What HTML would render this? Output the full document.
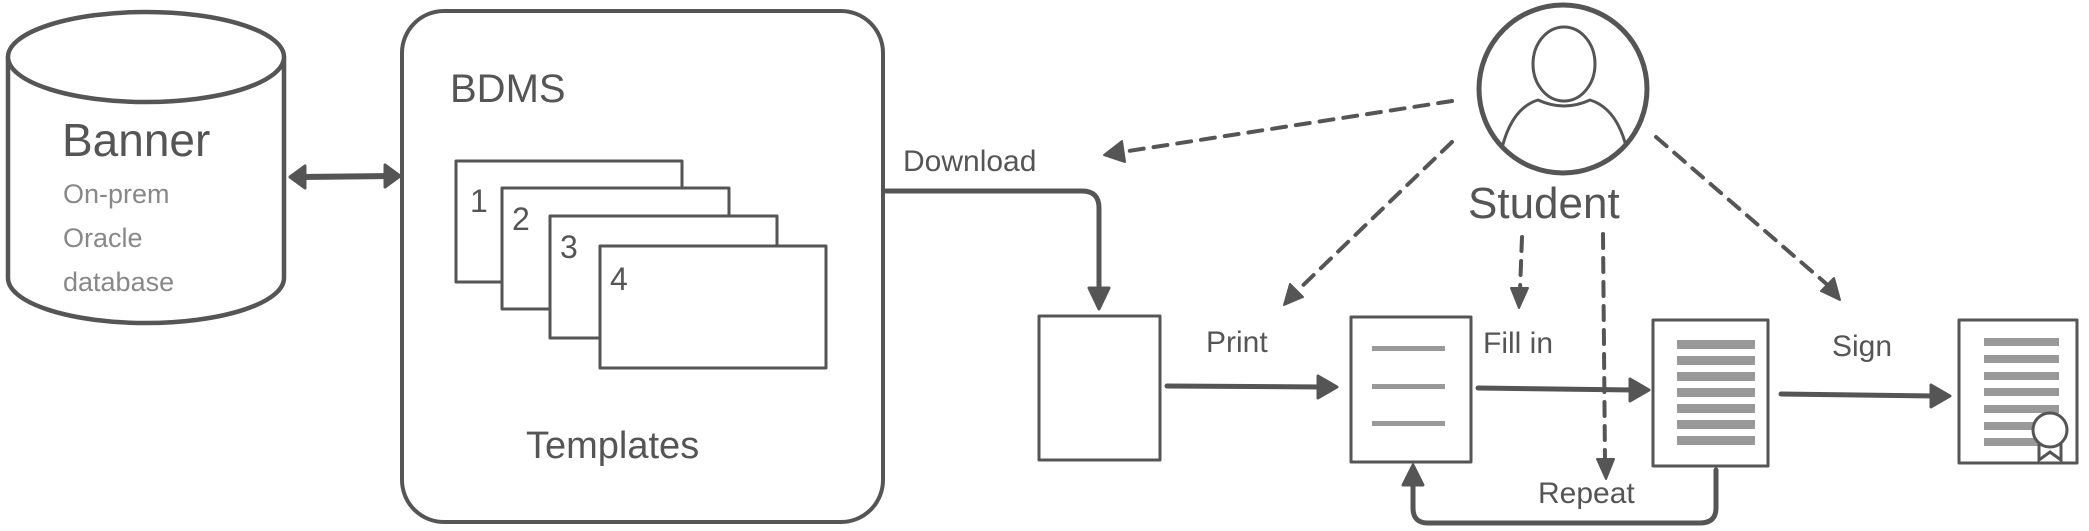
<!DOCTYPE html>
<html><head><meta charset="utf-8"><style>
html,body{margin:0;padding:0;background:#fff;}
svg{display:block}
text{font-family:"Liberation Sans",sans-serif;fill:#555;}
</style></head><body>
<svg width="2089" height="531" viewBox="0 0 2089 531" xmlns="http://www.w3.org/2000/svg">
<g fill="none" stroke="#555" stroke-width="4" stroke-linecap="round" stroke-linejoin="round">
<!-- cylinder -->
<path d="M8,57 L8,278 A138,45 0 0 0 284,278 L284,57" fill="#fff" stroke-width="4.5"/>
<ellipse cx="146" cy="57" rx="138" ry="45" fill="#fff" stroke-width="4.5"/>
<!-- double arrow -->
<line x1="300" y1="177" x2="388" y2="176" stroke-width="6"/>
<polygon points="290,177 305,166 305,188" fill="#555" stroke-width="3"/>
<polygon points="400,176 385,165 385,187" fill="#555" stroke-width="3"/>
<!-- BDMS -->
<rect x="402" y="11" width="481" height="511" rx="42" fill="#fff"/>
<g stroke-width="3" fill="#fff">
<rect x="456" y="161" width="226" height="121"/>
<rect x="502" y="188" width="227" height="121"/>
<rect x="550" y="216" width="227" height="122"/>
<rect x="600" y="246" width="226" height="122"/>
</g>
<!-- download arrow -->
<path d="M886,191 L1082,191 Q1099,191 1099,208 L1099,292" stroke-width="5"/>
<polygon points="1099,309 1089,288 1109,288" fill="#555" stroke-width="3"/>
<!-- docs -->
<rect x="1039" y="316" width="121" height="144" stroke-width="3"/>
<rect x="1351" y="317" width="120" height="145" stroke-width="3"/>
<rect x="1653" y="320" width="115" height="146" stroke-width="3"/>
<rect x="1959" y="320" width="118" height="143" stroke-width="3"/>
<!-- solid arrows -->
<line x1="1167" y1="386" x2="1322" y2="387" stroke-width="5"/>
<polygon points="1337,387 1318,376 1318,398" fill="#555" stroke-width="3"/>
<line x1="1478" y1="388" x2="1634" y2="390" stroke-width="5"/>
<polygon points="1649,390 1630,379 1630,401" fill="#555" stroke-width="3"/>
<line x1="1781" y1="394" x2="1935" y2="396" stroke-width="5"/>
<polygon points="1950,396 1931,385 1931,407" fill="#555" stroke-width="3"/>
<!-- repeat loop -->
<path d="M1716,470 L1716,508 Q1716,523 1700,523 L1428,523 Q1413,523 1413,508 L1413,480" stroke-width="5"/>
<polygon points="1413,465 1403,485 1423,485" fill="#555" stroke-width="3"/>
<!-- student -->
<circle cx="1563" cy="89" r="84" stroke-width="5" fill="#fff"/>
<ellipse cx="1564" cy="64" rx="31" ry="37" stroke-width="3"/>
<path d="M1502,148 Q1512,108 1538,100 Q1564,112 1590,100 Q1616,108 1626,146" stroke-width="3"/>
<!-- dashed -->
<g stroke-width="4" stroke-dasharray="14,10">
<line x1="1452" y1="101" x2="1122" y2="152"/>
<line x1="1452" y1="142" x2="1295" y2="293"/>
<line x1="1522" y1="237" x2="1520" y2="290"/>
<line x1="1603" y1="234" x2="1605" y2="462"/>
<line x1="1656" y1="137" x2="1830" y2="287"/>
</g>
<g fill="#555" stroke-width="2">
<polygon points="1104,155 1122,141 1125,162"/>
<polygon points="1284,305 1290,284 1303,297"/>
<polygon points="1519,308 1511,288 1528,288"/>
<polygon points="1606,479 1597,459 1614,459"/>
<polygon points="1840,300 1821,291 1834,278"/>
</g>
</g>
<!-- doc lines -->
<g fill="#999">
<rect x="1372" y="346" width="73" height="5"/>
<rect x="1372" y="384" width="73" height="5"/>
<rect x="1372" y="421" width="73" height="5"/>
</g>
<g fill="#999">
<rect x="1677" y="340" width="78" height="9"/>
<rect x="1677" y="356" width="78" height="9"/>
<rect x="1677" y="372" width="78" height="9"/>
<rect x="1677" y="388" width="78" height="9"/>
<rect x="1677" y="404" width="78" height="9"/>
<rect x="1677" y="420" width="78" height="9"/>
<rect x="1677" y="436" width="78" height="9"/>
<rect x="1984" y="338" width="75" height="8"/>
<rect x="1984" y="355" width="75" height="8"/>
<rect x="1984" y="372" width="75" height="8"/>
<rect x="1984" y="388" width="75" height="8"/>
<rect x="1984" y="405" width="75" height="8"/>
<rect x="1984" y="422" width="75" height="8"/>
<rect x="1984" y="438" width="75" height="8"/>
</g>
<path d="M2039,444 L2039,460 L2050,452 L2061,460 L2061,444" fill="#fff" stroke="#555" stroke-width="3"/>
<circle cx="2050" cy="430" r="17" fill="#fff" stroke="#555" stroke-width="3"/>
<!-- text -->
<text x="62" y="156" font-size="46">Banner</text>
<text x="63" y="203" font-size="27" style="fill:#888">On-prem</text>
<text x="63" y="247" font-size="27" style="fill:#888">Oracle</text>
<text x="63" y="291" font-size="27" style="fill:#888">database</text>
<text x="450" y="102" font-size="40">BDMS</text>
<text x="470" y="212" font-size="32">1</text>
<text x="512" y="230" font-size="32">2</text>
<text x="560" y="258" font-size="32">3</text>
<text x="610" y="290" font-size="32">4</text>
<text x="526" y="458" font-size="38">Templates</text>
<text x="903" y="171" font-size="30">Download</text>
<text x="1206" y="352" font-size="30">Print</text>
<text x="1483" y="353" font-size="30">Fill in</text>
<text x="1832" y="356" font-size="30">Sign</text>
<text x="1468" y="218" font-size="44">Student</text>
<text x="1538" y="503" font-size="30">Repeat</text>
</svg>
</body></html>
